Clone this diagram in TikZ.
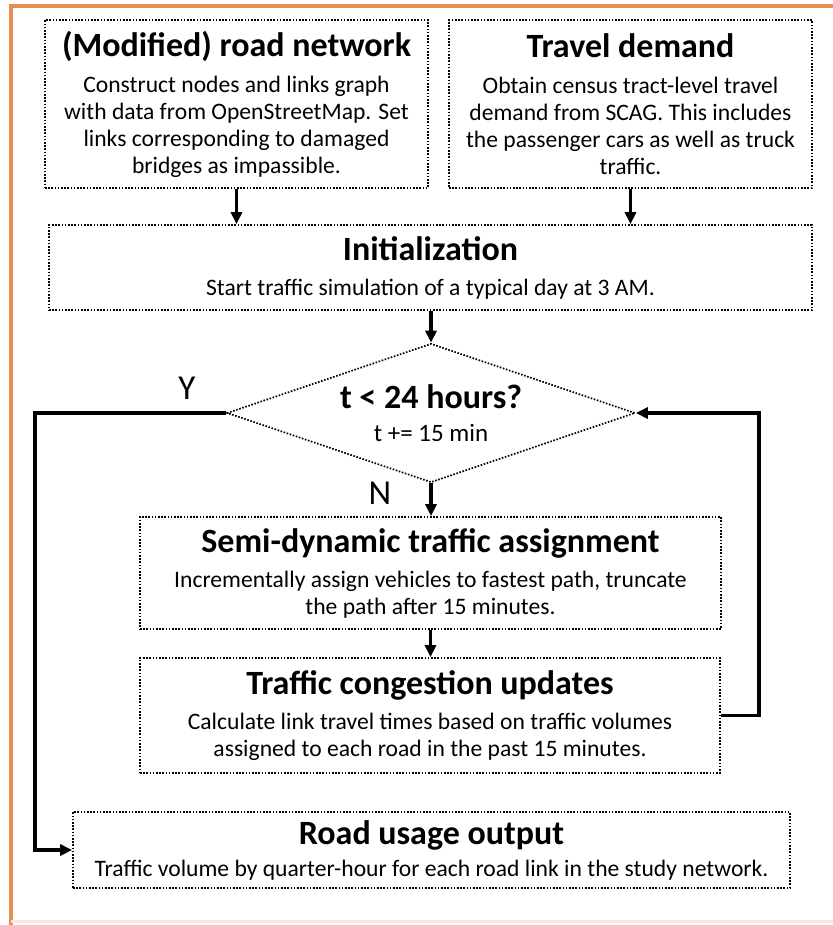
\documentclass[tikz,border=0pt]{standalone}
\usepackage{fontspec}
\setmainfont{Carlito}
\usetikzlibrary{arrows.meta,shapes.geometric}
\definecolor{frameorange}{RGB}{233,142,82}
\newcommand{\boxtitle}[1]{{\fontsize{17}{19}\selectfont\bfseries #1}}

\begin{document}
\begin{tikzpicture}[x=0.5pt, y=-0.5pt,
	stagebox/.style = {draw, dash pattern=on 0.8pt off 0.8pt, line width=0.85pt, align=center, inner sep=0pt, font=\fontsize{11.8}{13.5}\selectfont},
	flow/.style = {line width=1.6pt, -{Triangle[length=6pt,width=5.5pt]}},
	answer/.style = {font=\fontsize{17.5}{19}\selectfont}]
	\useasboundingbox (0,0) rectangle (833,925);
	\draw [frameorange, line width=1.8pt] (11,925) -- (11,6) -- (833,6);
	\draw [frameorange!20, line width=1.5pt] (11,921) -- (833,921);

	% inputs
	\node [stagebox, minimum width=191.5pt, minimum height=84pt] (net) at (236.5,104) {\boxtitle{(Modified) road network}\\[4.5pt]
		Construct nodes and links graph\\ with data from OpenStreetMap. Set\\ links corresponding to damaged\\ bridges as impassible.};
	\node [stagebox, minimum width=181.5pt, minimum height=84pt] (dem) at (630.5,104) {\boxtitle{Travel demand}\\[4.5pt]
		Obtain census tract-level travel\\ demand from SCAG. This includes\\ the passenger cars as well as truck\\ traffic.};
	\node [stagebox, minimum width=381.5pt, minimum height=42.5pt] (init) at (430.5,267.5) {\boxtitle{Initialization}\\[4pt]
		Start traffic simulation of a typical day at 3 AM.};

	% loop
	\node [stagebox, shape=diamond, aspect=3, minimum width=204pt, minimum height=69.5pt] (test) at (431,413) {\boxtitle{t < 24 hours?}\\[3pt]
		{\fontsize{12.5}{14}\selectfont t += 15 min}};
	\node [stagebox, minimum width=290.5pt, minimum height=56pt] (assign) at (430.5,573) {\boxtitle{Semi-dynamic traffic assignment}\\[4pt]
		Incrementally assign vehicles to fastest path, truncate\\ the path after 15 minutes.};
	\node [stagebox, minimum width=290pt, minimum height=57.5pt] (cong) at (430,715.5) {\boxtitle{Traffic congestion updates}\\[4pt]
		Calculate link travel times based on traffic volumes\\ assigned to each road in the past 15 minutes.};

	% output
	\node [stagebox, minimum width=358.5pt, minimum height=38pt] (out) at (431.5,850) {\boxtitle{Road usage output}\\[2.5pt]
		Traffic volume by quarter-hour for each road link in the study network.};

	\node [answer] (ylab) at (187,388) {Y};
	\node [answer] (nlab) at (380,493) {N};

	\coordinate (loopback) at (759,413);
	\coordinate (yesbend) at (35,413);

	\draw [flow] (net.south) -- (net.south |- init.north);
	\draw [flow] (dem.south) -- (dem.south |- init.north);
	\draw [flow] (init.south -| test.north) -- (test.north);
	\draw [flow] (test.south) -- (test.south |- assign.north);
	\draw [flow] (assign.south) -- (assign.south |- cong.north);
	\draw [flow] (cong.east) -| (loopback) -- (test.east);
	\draw [flow] (test.west) -- (yesbend) |- (out.west);
\end{tikzpicture}
\end{document}
